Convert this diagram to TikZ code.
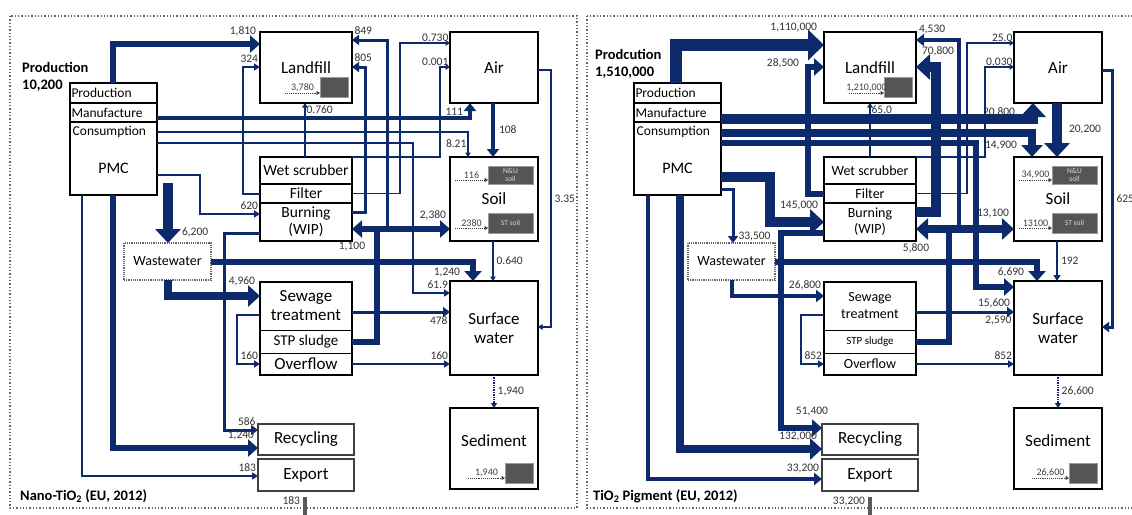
\documentclass[tikz,border=0pt]{standalone}
\usepackage{fontspec}
\setmainfont{Carlito}
\usepackage{tikz}
\usetikzlibrary{arrows.meta,positioning}

\definecolor{navy}{HTML}{0C2A6C}
\definecolor{stockgray}{HTML}{555555}

% boxes shared by both panels: #1 landfill stock, #2 N&U soil, #3 ST soil, #4 sediment
\newcommand\panelboxes[4]{%
  \node[box, anchor=north west, minimum width=87, minimum height=112] (pmc) at (70,83) {};
  \node[row, anchor=north west, minimum height=20] (prod) at (70,83) {Production};
  \node[row, anchor=north west, minimum height=19] (manu) at (70,103) {Manufacture};
  \node[rowtxt, anchor=west] (cons) at (72.5,132) {Consumption};
  \node[rowtxt, font=\fontsize{16}{18}\selectfont] (pmct) at (113.5,168) {PMC};
  \node[box, anchor=north west, minimum width=92, minimum height=71] (lf) at (260,32) {Landfill};
  \node[box, anchor=north west, minimum width=88, minimum height=71] (air) at (450,32) {Air};
  \node[stk, anchor=north west, minimum width=92, minimum height=27] (ws) at (260,157) {Wet scrubber};
  \node[stk, anchor=north west, minimum width=92, minimum height=19] (filt) at (260,184) {Filter};
  \node[stk, anchor=north west, minimum width=92, minimum height=38] (burn) at (260,203) {Burning\\(WIP)};
  \node[box, anchor=north west, minimum width=88, minimum height=84] (soil) at (450,157) {Soil};
  \node[wbox, anchor=north west, minimum width=87, minimum height=37] (ww) at (124,243) {Wastewater};
  \node[sewin, anchor=north west, minimum width=92, minimum height=48] (sew) at (260,282) {Sewage\\treatment};
  \node[sewin, stp, anchor=north west, minimum width=92, minimum height=23] (stp) at (260,330) {STP sludge};
  \node[sewin, anchor=north west, minimum width=92, minimum height=22] (ovf) at (260,353) {Overflow};
  \node[box, fill=none, anchor=north west, minimum width=92, minimum height=93] (sewb) at (260,282) {};
  \node[box, anchor=north west, minimum width=88, minimum height=94] (sw) at (450,281) {Surface\\water};
  \node[box, anchor=north west, minimum width=88, minimum height=81] (sed) at (450,408) {Sediment\\[-4pt]};
  \node[tbox, anchor=north west, minimum width=96, minimum height=31] (rec) at (258,424) {Recycling};
  \node[tbox, anchor=north west, minimum width=96, minimum height=32] (exp) at (258,459) {Export};
  % stocks
  \node[dk, anchor=north west, minimum width=28, minimum height=20] (lfd) at (320,77) {};
  \node[dk, anchor=north west, minimum width=45, minimum height=18] (nus) at (488,166) {N\&U\\soil};
  \node[dk, anchor=north west, minimum width=45, minimum height=20] (sts) at (488,213) {ST soil};
  \node[dk, anchor=north west, minimum width=28, minimum height=20] (sedd) at (505,463) {};
  \draw[stock] ([xshift=-35,yshift=-6]lfd.west) -- ([yshift=-6]lfd.west) node[ilbl, midway, above]{#1};
  \draw[stock] ([xshift=-33,yshift=-5]nus.west) -- ([yshift=-5]nus.west) node[ilbl, midway, above]{#2};
  \draw[stock] ([xshift=-33,yshift=-5]sts.west) -- ([yshift=-5]sts.west) node[ilbl, midway, above]{#3};
  \draw[stock] ([xshift=-37,yshift=-5]sedd.west) -- ([yshift=-5]sedd.west) node[ilbl, midway, above]{#4};
}

\begin{document}
\begin{tikzpicture}[x=1pt, y=-1pt,
  box/.style={draw, line width=1.8pt, fill=white, inner sep=0pt, outer sep=0pt, align=center, font=\fontsize{17}{19}\selectfont},
  row/.style={draw, line width=1.8pt, inner xsep=1.5pt, inner ysep=0pt, outer sep=0pt, text width=84pt, align=left, font=\fontsize{13.5}{15}\selectfont},
  rowtxt/.style={inner sep=0pt, font=\fontsize{13.5}{15}\selectfont},
  stk/.style={box, font=\fontsize{15.5}{17}\selectfont},
  sewin/.style={draw, line width=1pt, fill=white, inner sep=0pt, outer sep=0pt, align=center, font=\fontsize{17}{19}\selectfont},
  stp/.style={font=\fontsize{15}{17}\selectfont},
  tbox/.style={draw=black!75, line width=1.2pt, fill=white, inner sep=0pt, outer sep=0pt, font=\fontsize{17}{19}\selectfont},
  wbox/.style={draw=black!60, line width=1.2pt, densely dotted, fill=white, inner sep=0pt, outer sep=0pt, font=\fontsize{14}{16}\selectfont},
  dk/.style={draw=black!40, line width=1pt, fill=stockgray, inner sep=0pt, outer sep=0pt, align=center, text=black!15, font=\fontsize{7.5}{8}\selectfont},
  stock/.style={draw=black!75, line width=0.9pt, densely dotted, -{Triangle[length=3.5pt,width=4pt]}},
  lbl/.style={inner sep=1pt, text=black!80, font=\fontsize{11.5}{12}\selectfont},
  ilbl/.style={inner sep=1pt, text=black!75, font=\fontsize{10}{11}\selectfont},
  ttl/.style={inner sep=0pt, align=left, font=\bfseries\fontsize{14.5}{17.5}\selectfont},
  frame/.style={draw=black!60, line width=1.3pt, dotted},
  f1/.style={draw=navy, line width=1.2pt, -{Triangle[length=4.5pt,width=5.5pt]}},
  f2/.style={draw=navy, line width=2pt, -{Triangle[length=6pt,width=7pt]}},
  f3/.style={draw=navy, line width=3pt, -{Triangle[length=7pt,width=10pt]}},
  f4/.style={draw=navy, line width=4pt, -{Triangle[length=8pt,width=12pt]}},
  f6/.style={draw=navy, line width=6pt, -{Triangle[length=10pt,width=17pt]}},
  f8/.style={draw=navy, line width=8pt, -{Triangle[length=12pt,width=21pt]}},
  f10/.style={draw=navy, line width=10pt, -{Triangle[length=14pt,width=25pt]}},
  f12/.style={draw=navy, line width=12pt, -{Triangle[length=16pt,width=30pt]}},
  dflow/.style={draw=navy, line width=1.4pt, densely dotted, -{Triangle[length=5pt,width=6pt]}},
  outbar/.style={draw=black!65, line width=4pt}
]
\useasboundingbox (0,0) rectangle (1132,514);
\fill[white] (0,0) rectangle (1132,514);
\draw[frame] (10,16) rectangle (577,508);
\draw[frame] (587,16) rectangle (1140,508);

% ---- Nano-TiO2 ----
\begin{scope}[name prefix=L-]
\panelboxes{3,780}{116}{2380}{1,940}
\node[ttl, anchor=north west] (prodlbl) at (22,62) {Production\\10,200};
\node[ttl, anchor=west] (title) at (20,496) {Nano-TiO\textsubscript{2} (EU, 2012)};
\coordinate (jstp) at (377,229);
\draw[f6] (pmc.north -| 113,0) |- (lf.west |- 0,44) node[lbl, above left, yshift=4]{1,810};
\draw[f2] (filt.west) -| (243,67) -- (lf.west |- 0,67) node[lbl, above left, yshift=2]{324};
\draw[f1] (ws.north -| 305,0) -- (lf.south -| 305,0) node[lbl, below right, yshift=-1]{0.760};
\draw[f3] (burn.east |- 0,212) -| (365,67) -- (lf.east |- 0,67) node[lbl, above right, yshift=3]{805};
\draw[f6, -] (stp.east) -| (jstp);
\draw[f6] (jstp) -- (burn.east |- jstp) node[lbl, below=9pt]{1,100};
\draw[f6] (jstp) -- (soil.west |- jstp) node[lbl, above left, yshift=5]{2,380};
\draw[f3] (jstp -| 387,0) |- (lf.east |- 0,40) node[lbl, above right, yshift=3]{849};
\draw[f10] ([yshift=12]pmc.south -| 168,0) -- (ww.north -| 168,0) node[lbl, above right, xshift=8]{6,200};
\draw[f6] (ww.east) -| (sw.north -| 473,0) node[lbl, above left, xshift=-9]{1,240};
\draw[f8] (ww.south -| 168,0) |- (sew.west |- 0,296) node[lbl, above left, yshift=5]{4,960};
\draw[f2] (pmc.east |- 0,175) -| (200,214) -- (burn.west |- 0,214) node[lbl, above left, yshift=2]{620};
\draw[f4] (manu.east |- 0,118) -| (air.south -| 470,0) node[lbl, below left, xshift=-4, yshift=-2]{111};
\draw[f1] (pmc.east |- 0,132) -| (soil.north -| 468,0) node[lbl, above left, yshift=8]{8.21};
\draw[f2] (pmc.east |- 0,143) -| (413,293) -- (sw.west |- 0,293) node[lbl, above left, yshift=2]{61.9};
\draw[f1] (ws.north east) -| (440,67) -- (air.west |- 0,67) node[lbl, above left]{0.001};
\draw[f1] (filt.east) -| (400,43) -- (air.west |- 0,43) node[lbl, above left]{0.730};
\draw[f4] (air.south -| 493,0) -- (soil.north -| 493,0) node[lbl, midway, right, xshift=3]{108};
\draw[f1] (air.east |- 0,70) -| (551,327) node[lbl, pos=0.75, right, xshift=2]{3.35} -- (sw.east |- 0,327);
\draw[f1] (soil.south -| 493,0) -- (sw.north -| 493,0) node[lbl, midway, right, xshift=2]{0.640};
\draw[f3] (sew.east |- 0,312) -- (sw.west |- 0,312) node[lbl, below left, yshift=-2]{478};
\draw[f2] (ovf.east) -- (sw.west |- ovf.east) node[lbl, above left, yshift=2]{160};
\draw[f2] (sew.west |- 0,315) -| (237,364) -- (ovf.west |- 0,364) node[lbl, above left, yshift=2]{160};
\draw[dflow] (sw.south) -- (sed.north) node[lbl, midway, right, xshift=2]{1,940};
\draw[f3] (burn.west |- 0,233) -| (224,430) -- (rec.west |- 0,430) node[lbl, above left, yshift=2]{586};
\draw[f6] (pmc.south -| 113,0) |- (rec.west |- 0,448) node[lbl, above left, yshift=4]{1,240};
\draw[f2] (pmc.south -| 82,0) |- (exp.west |- 0,476) node[lbl, above left, yshift=2]{183};
\draw[outbar] (exp.south -| 305,0) ++(0,6) -- ++(0,20) node[lbl, pos=0.2, left, xshift=-2]{183};
\end{scope}

% ---- TiO2 pigment ----
\begin{scope}[xshift=564, name prefix=R-,
  stk/.style={box, font=\fontsize{14}{16}\selectfont},
  sewin/.style={draw, line width=1pt, fill=white, inner sep=0pt, outer sep=0pt, align=center, font=\fontsize{14}{17}\selectfont},
  stp/.style={font=\fontsize{11}{13}\selectfont}]
\panelboxes{1,210,000}{34,900}{13100}{26,600}
\node[ttl, anchor=north west] (prodlbl) at (31,49) {Prodcution\\1,510,000};
\node[ttl, anchor=west] (title) at (29,496) {TiO\textsubscript{2} Pigment (EU, 2012)};
\coordinate (jstp) at (385,229);
\draw[f12] (pmc.north -| 112,0) |- (lf.west |- 0,45) node[lbl, above left, yshift=6]{1,110,000};
\draw[f6] (filt.west) -| (244,67) -- (lf.west |- 0,67) node[lbl, left, xshift=-21, yshift=4]{28,500};
\draw[f1] (ws.north -| 306,0) -- (lf.south -| 306,0) node[lbl, below right, yshift=-1]{65.0};
\draw[f10] (burn.east |- 0,212) -| (372,67) -- (lf.east |- 0,67) node[lbl, above right, yshift=5]{70,800};
\draw[f6, -] (stp.east) -| (jstp);
\draw[f8] (jstp) -- (burn.east |- jstp) node[lbl, below=10pt]{5,800};
\draw[f8] (jstp) -- (soil.west |- jstp) node[lbl, above left, yshift=6]{13,100};
\draw[f4] (jstp -| 395,0) |- (lf.east |- 0,40) node[lbl, above right, yshift=3]{4,530};
\draw[f3] (pmc.east |- 0,189) -| (ww.north -| 169,0) node[lbl, above right, xshift=3]{33,500};
\draw[f6] (ww.east) -| (sw.north -| 473,0) node[lbl, above left, xshift=-9]{6,690};
\draw[f4] (ww.south -| 168,0) |- (sew.west |- 0,296) node[lbl, above left, yshift=3]{26,800};
\draw[f10] (pmc.east |- 0,177) -| (206,222) -- (burn.west |- 0,222) node[lbl, above left, yshift=6]{145,000};
\draw[f10] (manu.east |- 0,119) -| (air.south -| 469,0) node[lbl, below left, xshift=-12, yshift=1]{20,800};
\draw[f8] (pmc.east |- 0,133) -| (soil.north -| 468,0) node[lbl, above left, xshift=-10, yshift=2]{14,900};
\draw[f6] (pmc.east |- 0,143) -| (412,287) -- (sw.west |- 0,287) node[lbl, below left, yshift=-8]{15,600};
\draw[f1] (ws.north east) -| (421,67) -- (air.west |- 0,67) node[lbl, above left]{0.030};
\draw[f1] (filt.east) -| (403,43) -- (air.west |- 0,43) node[lbl, above left]{25.0};
\draw[f10] (air.south -| 493,0) -- (soil.north -| 493,0) node[lbl, midway, right, xshift=6]{20,200};
\draw[f3] (air.east |- 0,70) -| (548,327) node[lbl, pos=0.75, right, xshift=2]{625} -- (sw.east |- 0,327);
\draw[f2] (soil.south -| 493,0) -- (sw.north -| 493,0) node[lbl, midway, right, xshift=2]{192};
\draw[f3] (sew.east |- 0,312) -- (sw.west |- 0,312) node[lbl, below left, yshift=-2]{2,590};
\draw[f2] (ovf.east) -- (sw.west |- ovf.east) node[lbl, above left, yshift=2]{852};
\draw[f2] (sew.west |- 0,315) -| (237,364) -- (ovf.west |- 0,364) node[lbl, above left, yshift=2]{852};
\draw[dflow] (sw.south) -- (sed.north) node[lbl, midway, right, xshift=2]{26,600};
\draw[f6] (burn.west |- 0,233) -| (217,428) -- (rec.west |- 0,428) node[lbl, above left, xshift=10, yshift=8]{51,400};
\draw[f8] (pmc.south -| 116,0) |- (rec.west |- 0,449) node[lbl, above left, yshift=3]{132,000};
\draw[f4] (pmc.south -| 84,0) |- (exp.west |- 0,479) node[lbl, above left, yshift=3]{33,200};
\draw[outbar] (exp.south -| 306,0) ++(0,6) -- ++(0,20) node[lbl, pos=0.2, left, xshift=-2]{33,200};
\end{scope}
\end{tikzpicture}
\end{document}
